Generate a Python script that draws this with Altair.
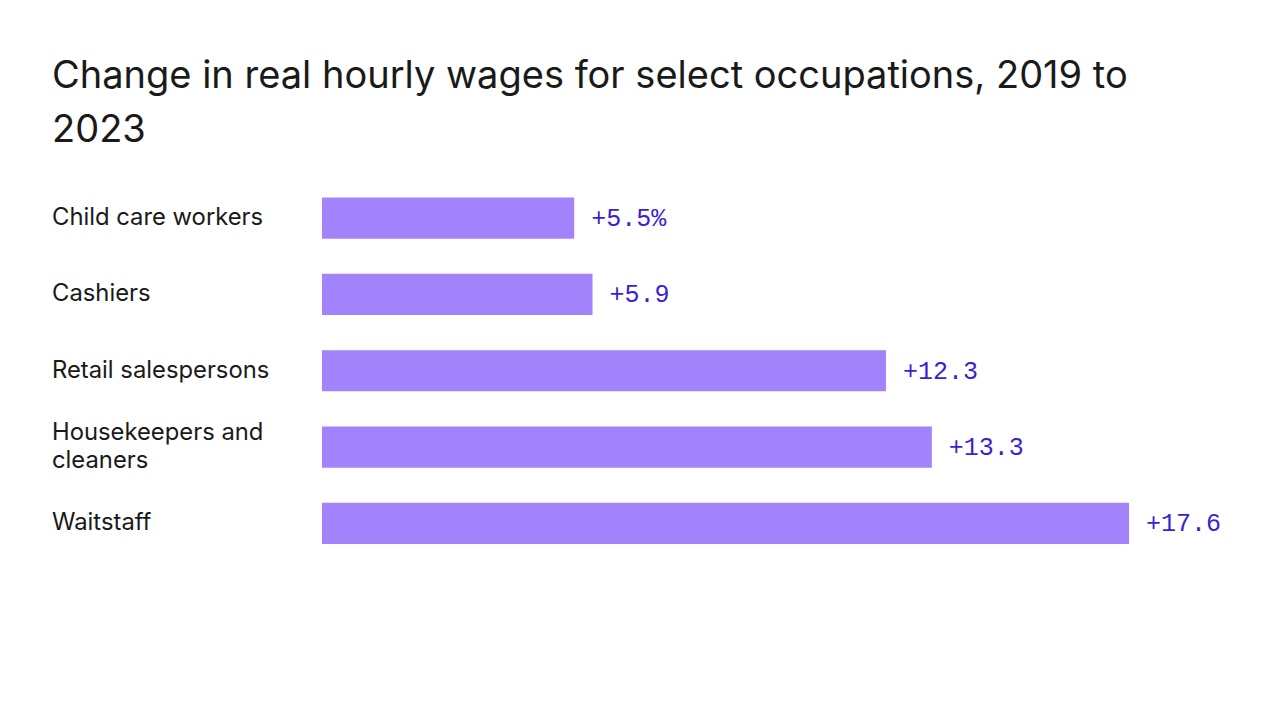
import altair as alt
import pandas as pd

occupations = ["Child care workers", "Cashiers", "Retail salespersons",
               "Housekeepers and\ncleaners", "Waitstaff"]
line_counts = [1, 1, 1, 2, 1]
changes = [5.5, 5.9, 12.3, 13.3, 17.6]
value_labels = ["+5.5%", "+5.9", "+12.3", "+13.3", "+17.6"]

df = pd.DataFrame({"occupation": occupations, "lines": line_counts,
                   "change": changes, "label": value_labels})

LEFT = 322
TOP = 180
W = 807
H = 381.5

y = alt.Y("occupation:N", sort=occupations, axis=None,
          scale=alt.Scale(paddingInner=0.46, paddingOuter=0.23))
x = alt.X("change:Q", axis=None, scale=alt.Scale(domain=[0, 17.6], nice=False, zero=True))

bars = alt.Chart(df).mark_bar(color="#a283fc").encode(x=x, y=y)

vals = alt.Chart(df).mark_text(
    align="left", baseline="middle", dx=17, font="Liberation Mono",
    fontSize=25, color="#3a1fd6"
).encode(x=x, y=y, text="label:N")

cat_style = dict(align="left", baseline="middle", font="Inter", fontSize=23.8,
                 color="#1a1a1a", lineBreak="\n", lineHeight=28)

cats_single = alt.Chart(df).transform_filter("datum.lines == 1").mark_text(
    **cat_style
).encode(x=alt.value(52 - LEFT), y=y, text="occupation:N")

cats_multi = alt.Chart(df).transform_filter("datum.lines == 2").mark_text(
    dy=-14, **cat_style
).encode(x=alt.value(52 - LEFT), y=y, text="occupation:N")

chart = alt.layer(bars, vals, cats_single, cats_multi).properties(
    width=W, height=H,
    title=alt.TitleParams(
        ["Change in real hourly wages for select occupations, 2019 to", "2023"],
        anchor="start", frame="group", dx=52 - LEFT, offset=30,
        font="Inter", fontSize=38, fontWeight="normal", color="#1a1a1a",
        lineHeight=54,
    ),
    autosize=alt.AutoSizeParams(type="none"),
    padding={"left": LEFT, "top": TOP, "right": 1280 - LEFT - W, "bottom": 719 - TOP - H - 5},
).configure(background="white", view=alt.ViewConfig(stroke=None))

chart.save("out.html", embed_options={"renderer": "svg", "actions": False})
